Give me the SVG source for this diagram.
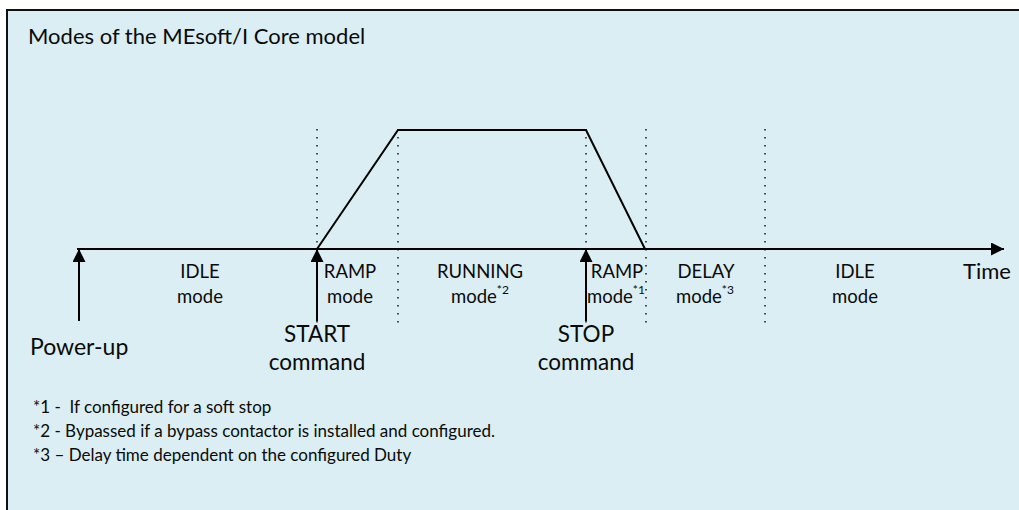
<svg xmlns="http://www.w3.org/2000/svg" width="1019" height="510" viewBox="0 0 1019 510">
<defs>
<style>
text{font-family:Lato,"Open Sans","Liberation Sans",sans-serif;fill:#0a0a0a}
.m{font-size:18.5px;text-anchor:middle}
.c{font-size:22.5px;text-anchor:middle}
.f{font-size:17px;white-space:pre}
.sup{font-size:12px}
.dot{stroke:#222;stroke-width:1.6;stroke-dasharray:1.6 6.4;fill:none}
.ln{stroke:#000;stroke-width:2;fill:none}
</style>
<marker id="ah" viewBox="0 0 10 10" refX="10" refY="5" markerWidth="14" markerHeight="13" markerUnits="userSpaceOnUse" orient="auto"><path d="M0,0 L10,5 L0,10 z" fill="#000"/></marker>
</defs>
<rect x="0" y="0" width="1019" height="510" fill="#fff"/>
<rect x="7" y="10" width="1040" height="530" fill="#DAEEF3" stroke="#111" stroke-width="2"/>
<text x="28" y="44" style="font-size:22px">Modes of the MEsoft/I Core model</text>

<g id="guides">
<line class="dot" x1="317" y1="129" x2="317" y2="329"/>
<line class="dot" x1="398" y1="129" x2="398" y2="329"/>
<line class="dot" x1="586" y1="129" x2="586" y2="329"/>
<line class="dot" x1="646" y1="129" x2="646" y2="329"/>
<line class="dot" x1="765" y1="129" x2="765" y2="329"/>
</g>

<g id="connectors">
<line class="ln" x1="77" y1="249" x2="1004" y2="249" marker-end="url(#ah)"/>
<polyline class="ln" points="317,249 398,130 586,130 645,249"/>
<line class="ln" x1="79" y1="321" x2="79" y2="249" marker-end="url(#ah)"/>
<line class="ln" x1="317" y1="321" x2="317" y2="249" marker-end="url(#ah)"/>
<line class="ln" x1="586" y1="321" x2="586" y2="249" marker-end="url(#ah)"/>
</g>

<g id="idle1"><text class="m" x="200" y="278">IDLE</text><text class="m" x="200" y="303">mode</text></g>
<g id="ramp1"><text class="m" x="350" y="278">RAMP</text><text class="m" x="350" y="303">mode</text></g>
<g id="running"><text class="m" x="480" y="278">RUNNING</text><text x="451" y="303" style="font-size:18.5px">mode<tspan class="sup" dy="-9">*2</tspan></text></g>
<g id="ramp2"><text class="m" x="617" y="278">RAMP</text><text x="587" y="303" style="font-size:18.5px">mode<tspan class="sup" dy="-9">*1</tspan></text></g>
<g id="delay"><text class="m" x="706" y="278">DELAY</text><text x="676" y="303" style="font-size:18.5px">mode<tspan class="sup" dy="-9">*3</tspan></text></g>
<g id="idle2"><text class="m" x="855" y="278">IDLE</text><text class="m" x="855" y="303">mode</text></g>
<g id="time"><text x="963" y="279" style="font-size:22px">Time</text></g>
<g id="powerup"><text x="30" y="355" style="font-size:23px">Power-up</text></g>
<g id="start"><text class="c" x="317" y="342">START</text><text class="c" x="317" y="370">command</text></g>
<g id="stop"><text class="c" x="586" y="342">STOP</text><text class="c" x="586" y="370">command</text></g>

<g id="notes">
<text class="f" x="33" y="413" xml:space="preserve">*1 -  If configured for a soft stop</text>
<text class="f" x="33" y="437">*2 - Bypassed if a bypass contactor is installed and configured.</text>
<text class="f" x="33" y="461">*3 – Delay time dependent on the configured Duty</text>
</g>
</svg>
